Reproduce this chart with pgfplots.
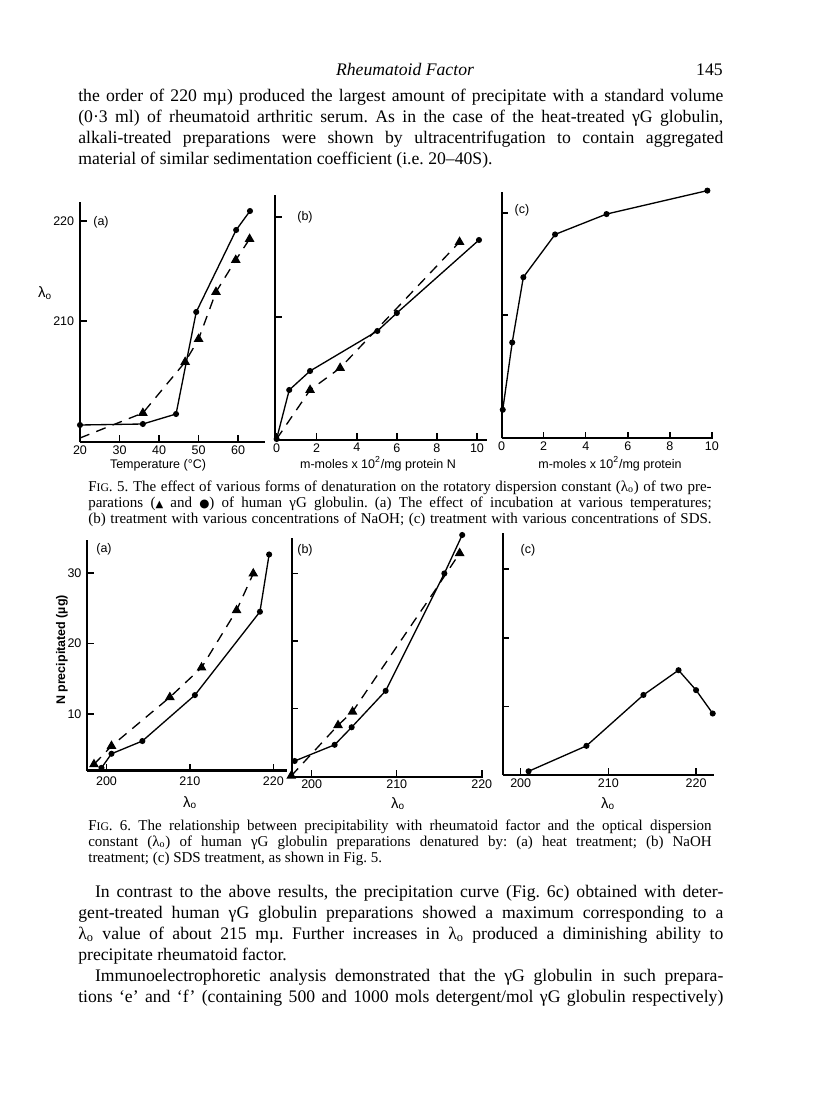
\documentclass[border=0pt]{standalone}
\usepackage{fontspec}
\setmainfont{Liberation Serif}
\setsansfont{Liberation Sans}
\newfontfamily\symfont{DejaVu Sans}
\usepackage{pgfplots}
\pgfplotsset{compat=1.18}
\frenchspacing

% one pixel of the 816x1094 page
\newcommand{\pxu}{0.6pt}
\newcommand{\bodyfont}{\fontsize{10.6}{12}\selectfont}
\newcommand{\capfont}{\fontsize{9}{10}\selectfont}
\newcommand{\figfont}{\sffamily\fontsize{7.5}{9}\selectfont}
\newcommand{\Line}[3]{\node[anchor=base west, inner sep=0pt] at (#1*\pxu,-#2*\pxu) {#3};}
\newcommand{\lam}{λ\textsubscript{o}}
\newcommand{\FIG}{F{\fontsize{7}{8}\selectfont IG}}

\pgfplotsset{
  panel/.style={
    scale only axis,
    anchor=south west,
    axis lines=left,
    axis line style={-, line width=1.3pt},
    enlargelimits=false,
    tick align=inside,
    major tick length=4pt,
    tick style={line width=0.9pt, black},
    tick label style={font=\figfont},
    xticklabel style={yshift=1.5pt},
    /pgf/number format/assume math mode=true,
    clip=false,
  },
  dots/.style={black, line width=0.8pt, mark=*, mark size=1.4pt},
  tris/.style={black, line width=0.8pt, dash pattern=on 6pt off 4.5pt,
    mark=triangle*, mark size=2.6pt, mark options={solid, fill=black}},
}

\begin{document}
\begin{tikzpicture}
\fill[white] (0,0) rectangle (816*\pxu,-1094*\pxu);

% ---- running head and first paragraph
\node[anchor=base, inner sep=0pt] at (405*\pxu,-76*\pxu) {\bodyfont\itshape Rheumatoid Factor};
\node[anchor=base east, inner sep=0pt] at (723*\pxu,-76*\pxu) {\bodyfont 145};
\Line{78}{102}{\bodyfont\makebox[387pt][s]{the order of 220 mµ) produced the largest amount of precipitate with a standard volume}}
\Line{78}{123}{\bodyfont\makebox[387pt][s]{(0·3 ml) of rheumatoid arthritic serum. As in the case of the heat-treated γG globulin,}}
\Line{78}{144}{\bodyfont\makebox[387pt][s]{alkali-treated preparations were shown by ultracentrifugation to contain aggregated}}
\Line{78}{165}{\bodyfont material of similar sedimentation coefficient (i.e. 20–40S).}

% ---- Fig. 5 (a)
\begin{axis}[panel, at={(80*\pxu,-442*\pxu)}, width=111pt, height=144pt,
  xmin=20, xmax=66.8, ymin=197.9, ymax=221.9,
  xtick={20,30,40,50,60}, ytick={210,220}]
\addplot[dots] coordinates {(20,199.6) (35.9,199.7) (44.3,200.7) (49.4,210.9) (59.5,219.1) (63.0,221.0)};
\addplot[tris, mark indices={2,3,4,5,6,7}] coordinates {(20,198.3) (35.9,200.8) (46.6,205.9) (50,208.2) (54.4,212.9) (59.4,216.1) (62.9,218.2)};
\end{axis}
% ---- Fig. 5 (b)
\begin{axis}[panel, at={(275*\pxu,-440*\pxu)}, width=127.2pt, height=147pt,
  xmin=-0.08, xmax=10.5, ymin=197.7, ymax=222.2,
  xtick={0,2,4,6,8,10}, ytick={210,220}, yticklabels={}]
\addplot[dots] coordinates {(0,197.8) (0.63,202.7) (1.67,204.6) (5.03,208.6) (6.0,210.4) (10.1,217.7)};
\addplot[tris, mark indices={2,3,4}] coordinates {(0,197.8) (1.67,202.7) (3.17,204.9) (9.13,217.5)};
\end{axis}
% ---- Fig. 5 (c)
\begin{axis}[panel, at={(501.7*\pxu,-438.3*\pxu)}, width=126.8pt, height=148pt,
  xmin=0, xmax=10.06, ymin=197.9, ymax=222.1,
  xtick={0,2,4,6,8,10}, ytick={210,220}, yticklabels={}]
\addplot[dots] coordinates {(0.05,200.7) (0.5,207.3) (1.03,213.7) (2.54,217.9) (4.99,219.9) (9.79,222.2)};
\end{axis}

\node[font=\figfont\fontsize{9}{10}\selectfont, anchor=base] at (45*\pxu,-298*\pxu) {\lam};
\node[font=\figfont, anchor=base] at (101*\pxu,-226*\pxu) {(a)};
\node[font=\figfont, anchor=base] at (305*\pxu,-221*\pxu) {(b)};
\node[font=\figfont, anchor=base] at (522*\pxu,-214*\pxu) {(c)};
\node[font=\figfont, anchor=base] at (158*\pxu,-468*\pxu) {Temperature (°C)};
\node[font=\figfont, anchor=base] at (378*\pxu,-468*\pxu) {m-moles x 10\textsuperscript{2}/mg protein N};
\node[font=\figfont, anchor=base] at (610*\pxu,-468*\pxu) {m-moles x 10\textsuperscript{2}/mg protein};

% ---- caption of Fig. 5
\Line{88}{491}{\capfont\makebox[374pt][s]{\FIG. 5. The effect of various forms of denaturation on the rotatory dispersion constant (\lam) of two pre-}}
\Line{88}{507}{\capfont\makebox[374pt][s]{parations ({\symfont\fontsize{6}{7}\selectfont ▲} and {\symfont\fontsize{7}{7}\selectfont ●}) of human γG globulin. (a) The effect of incubation at various temperatures;}}
\Line{88}{523}{\capfont\makebox[374pt][s]{(b) treatment with various concentrations of NaOH; (c) treatment with various concentrations of SDS.}}

% ---- Fig. 6 (a)
\begin{axis}[panel, at={(87.3*\pxu,-770.5*\pxu)}, width=119.6pt, height=138.3pt,
  xmin=197.7, xmax=221.6, ymin=2.03, ymax=34.65,
  xtick={200,210,220}, ytick={10,20,30}, xticklabel style={yshift=-1.5pt}]
\addplot[dots] coordinates {(199.4,2.4) (200.6,4.4) (204.3,6.2) (210.6,12.7) (218.4,24.5) (219.5,32.6)};
\addplot[tris] coordinates {(198.5,2.9) (200.6,5.5) (207.6,12.4) (211.4,16.6) (215.6,24.7) (217.6,29.9)};
\end{axis}
% ---- Fig. 6 (b)
\begin{axis}[panel, at={(291.7*\pxu,-776.7*\pxu)}, width=114.8pt, height=143pt,
  xmin=197.65, xmax=220.15, ymin=-0.13, ymax=35.2,
  xtick={200,210,220}, ytick={10,20,30}, yticklabels={}]
\addplot[dots] coordinates {(198.0,2.2) (202.7,4.6) (204.7,7.2) (208.7,12.6) (215.6,30.0) (217.7,35.7)};
\addplot[tris, mark indices={1,2,3,5}] coordinates {(197.6,0) (203.1,7.5) (204.8,9.5) (214.4,27.3) (217.4,33.0)};
\end{axis}
% ---- Fig. 6 (c)
\begin{axis}[panel, at={(502.7*\pxu,-775*\pxu)}, width=126.8pt, height=145pt,
  xmin=197.95, xmax=222.05, ymin=0.06, ymax=35.2,
  xtick={200,210,220}, ytick={10,20,30}, yticklabels={}]
\addplot[dots] coordinates {(200.9,0.6) (207.5,4.3) (214.0,11.7) (218.0,15.3) (220.0,12.4) (221.9,9.0)};
\end{axis}

\node[font=\figfont, rotate=90, anchor=base] at (65*\pxu,-650*\pxu) {\bfseries N precipitated (µg)};
\node[font=\figfont, anchor=base] at (104*\pxu,-552*\pxu) {(a)};
\node[font=\figfont, anchor=base] at (305*\pxu,-553*\pxu) {(b)};
\node[font=\figfont, anchor=base] at (528*\pxu,-553*\pxu) {(c)};
\node[font=\figfont\fontsize{9}{10}\selectfont, anchor=base] at (190*\pxu,-807*\pxu) {\lam};
\node[font=\figfont\fontsize{9}{10}\selectfont, anchor=base] at (398*\pxu,-808*\pxu) {\lam};
\node[font=\figfont\fontsize{9}{10}\selectfont, anchor=base] at (608*\pxu,-808*\pxu) {\lam};

% ---- caption of Fig. 6
\Line{88}{830}{\capfont\makebox[374pt][s]{\FIG. 6. The relationship between precipitability with rheumatoid factor and the optical dispersion}}
\Line{88}{846}{\capfont\makebox[374pt][s]{constant (\lam) of human γG globulin preparations denatured by: (a) heat treatment; (b) NaOH}}
\Line{88}{862}{\capfont treatment; (c) SDS treatment, as shown in Fig. 5.}

% ---- following paragraph
\Line{78}{897}{\bodyfont\makebox[387pt][s]{\hspace*{10pt}In contrast to the above results, the precipitation curve (Fig. 6c) obtained with deter-}}
\Line{78}{918}{\bodyfont\makebox[387pt][s]{gent-treated human γG globulin preparations showed a maximum corresponding to a}}
\Line{78}{939}{\bodyfont\makebox[387pt][s]{\lam{} value of about 215 mµ. Further increases in \lam{} produced a diminishing ability to}}
\Line{78}{960}{\bodyfont precipitate rheumatoid factor.}
\Line{78}{981}{\bodyfont\makebox[387pt][s]{\hspace*{10pt}Immunoelectrophoretic analysis demonstrated that the γG globulin in such prepara-}}
\Line{78}{1002}{\bodyfont\makebox[387pt][s]{tions ‘e’ and ‘f’ (containing 500 and 1000 mols detergent/mol γG globulin respectively)}}
\end{tikzpicture}
\end{document}
